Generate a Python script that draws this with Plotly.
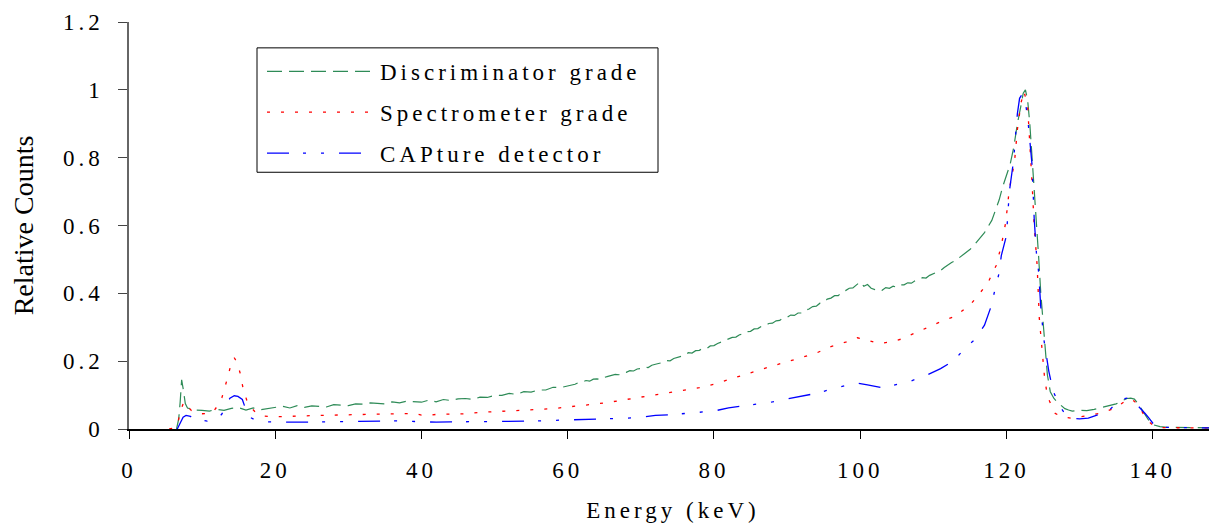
import plotly.graph_objects as go

# ---- Data ----
disc_x = [6.5, 6.8, 7.0, 7.2, 7.4, 7.7, 8.0, 8.5, 9, 10, 11, 12, 13, 14, 15, 16, 17, 18, 19, 20,
          21, 22, 23, 24, 25, 26, 27, 28, 29, 30, 31, 32, 33, 34, 35, 36, 37, 38, 39, 40,
          41, 42, 43, 44, 45, 46, 47, 48, 49, 50, 51, 52, 53, 54, 55, 56, 57, 58, 59,
          60, 60.5, 61, 61.5, 62, 62.5, 63, 63.5, 64, 64.5, 65, 65.5, 66, 66.5, 67, 67.5, 68, 68.5, 69, 69.5,
          70, 70.5, 71, 71.5, 72, 72.5, 73, 73.5, 74, 74.5, 75, 75.5, 76, 76.5, 77, 77.5, 78, 78.5, 79, 79.5,
          80, 80.5, 81, 81.5, 82, 82.5, 83, 83.5, 84, 84.5, 85, 85.5, 86, 86.5, 87, 87.5, 88, 88.5, 89, 89.5,
          90, 90.5, 91, 91.5, 92, 92.5, 93, 93.5, 94, 94.5, 95, 95.5, 96, 96.5, 97, 97.5, 98, 98.5, 99, 99.5,
          100, 100.5, 101, 101.5, 102, 102.5, 103, 103.5, 104, 104.5, 105, 105.5, 106, 106.5, 107, 107.5, 108, 108.5, 109, 109.5,
          110, 110.5, 111, 111.5, 112, 112.5, 113, 113.5, 114, 114.5, 115, 115.5, 116, 116.5, 117, 117.5, 118,
          118.5, 119, 119.5, 120, 120.5, 121, 121.5, 122, 122.3, 122.6, 122.9, 123.2, 123.5, 123.8, 124.1,
          124.4, 124.7, 125.0, 125.3, 125.6, 126.0, 126.5, 127, 127.5, 128, 128.5, 129, 130, 131, 132,
          133, 134, 135, 136, 136.5, 137, 137.5, 138, 138.5, 139, 139.5, 140, 141, 142, 144, 146, 148.8]
disc_y = [0.0, 0.03, 0.08, 0.145, 0.12, 0.075, 0.062, 0.058, 0.056, 0.055, 0.053, 0.058, 0.055, 0.061, 0.063, 0.056, 0.062, 0.057, 0.061, 0.063,
          0.067, 0.062, 0.069, 0.064, 0.068, 0.067, 0.065, 0.072, 0.071, 0.069, 0.074, 0.073, 0.077, 0.076, 0.074, 0.080, 0.077, 0.082, 0.081, 0.079,
          0.085, 0.080, 0.087, 0.084, 0.089, 0.090, 0.087, 0.094, 0.093, 0.099, 0.099, 0.105, 0.102, 0.110, 0.109, 0.115, 0.115, 0.123, 0.122,
          0.127, 0.131, 0.132, 0.137, 0.138, 0.143, 0.141, 0.147, 0.148, 0.146, 0.152, 0.155, 0.157, 0.161, 0.160, 0.166, 0.167, 0.172, 0.171, 0.177,
          0.178, 0.183, 0.181, 0.188, 0.191, 0.194, 0.196, 0.202, 0.201, 0.208, 0.211, 0.214, 0.217, 0.225, 0.224, 0.231, 0.232, 0.238, 0.237, 0.245,
          0.246, 0.252, 0.256, 0.262, 0.265, 0.270, 0.271, 0.278, 0.280, 0.287, 0.288, 0.295, 0.296, 0.303, 0.304, 0.311, 0.312, 0.319, 0.320, 0.328,
          0.329, 0.336, 0.335, 0.342, 0.342, 0.350, 0.354, 0.361, 0.362, 0.371, 0.373, 0.383, 0.386, 0.393, 0.393, 0.404, 0.408, 0.415, 0.416, 0.426,
          0.434, 0.421, 0.426, 0.415, 0.411, 0.414, 0.409, 0.417, 0.415, 0.421, 0.418, 0.425, 0.425, 0.431, 0.430, 0.437, 0.440, 0.446, 0.445, 0.453,
          0.458, 0.463, 0.467, 0.476, 0.484, 0.491, 0.496, 0.504, 0.511, 0.519, 0.529, 0.540, 0.554, 0.566, 0.579, 0.597, 0.615,
          0.645, 0.675, 0.715, 0.745, 0.780, 0.830, 0.900, 0.955, 0.990, 1.000, 0.970, 0.900, 0.810, 0.720, 0.620,
          0.510, 0.400, 0.320, 0.220, 0.160, 0.110, 0.090, 0.078, 0.068, 0.060, 0.056, 0.053, 0.055, 0.054, 0.058,
          0.063, 0.068, 0.074, 0.085, 0.090, 0.091, 0.088, 0.075, 0.058, 0.040, 0.024, 0.013, 0.007, 0.005, 0.004, 0.003, 0.003]

spec_x = [5.5, 6.2, 6.7, 7.0, 7.5, 8.0, 8.5, 9, 10, 11, 11.5, 12, 12.7, 13.4, 14.0, 14.4, 14.8, 15.2, 15.6, 16.1,
          16.6, 17.5, 18.5, 20, 22, 24, 26, 28, 30, 32, 34, 36, 38, 39, 40, 41, 42, 44, 46, 48,
          50, 52, 54, 56, 58, 60, 62, 64, 66, 68, 70, 72, 74, 76, 78, 80, 82, 84, 86, 88,
          90, 92, 94, 96, 98, 99.6, 101, 102.5, 104, 105.6, 107, 108.4, 110, 111.5, 113, 114, 115.2, 116.3, 117.4, 118.6,
          119.3, 119.9, 120.4, 121.1, 121.5, 122, 122.4, 122.9, 123.2, 123.5, 123.8, 124.2, 124.5, 124.8, 125.2, 125.6, 126.6, 127.5, 128.9, 131,
          133, 134.9, 136, 136.7, 137.5, 138.2, 139.2, 140, 141.2, 145, 148.8]
spec_y = [0.0, 0.003, 0.02, 0.05, 0.08, 0.068, 0.055, 0.048, 0.045, 0.046, 0.050, 0.065, 0.092, 0.145, 0.195, 0.210, 0.195, 0.165, 0.120, 0.085,
          0.065, 0.045, 0.038, 0.036, 0.038, 0.039, 0.040, 0.041, 0.042, 0.043, 0.044, 0.044, 0.045, 0.046, 0.041, 0.040, 0.043, 0.044, 0.045, 0.049,
          0.051, 0.052, 0.055, 0.057, 0.060, 0.065, 0.069, 0.074, 0.080, 0.087, 0.093, 0.099, 0.106, 0.114, 0.122, 0.132, 0.146, 0.160, 0.174, 0.186,
          0.198, 0.210, 0.224, 0.243, 0.256, 0.269, 0.262, 0.252, 0.256, 0.265, 0.278, 0.291, 0.305, 0.321, 0.332, 0.350, 0.370, 0.399, 0.428, 0.482,
          0.541, 0.609, 0.707, 0.786, 0.883, 0.962, 0.996, 0.952, 0.854, 0.728, 0.600, 0.482, 0.326, 0.258, 0.155, 0.097, 0.047, 0.036, 0.032, 0.039,
          0.047, 0.062, 0.080, 0.089, 0.082, 0.064, 0.027, 0.012, 0.004, 0.003, 0.003]

cap_x = [6.6, 7.0, 7.4, 7.8, 8.4, 9.0, 10, 10.7, 11.5, 12.2, 12.7, 13.3, 13.8, 14.4, 14.9, 15.5, 15.9, 16.5, 17.5, 19,
         20, 22, 24, 26, 28, 30, 32, 34, 36, 38, 40, 42, 44, 46, 48, 50, 52, 54, 56, 58,
         60, 62, 64, 66, 68, 70, 72, 74, 76, 78, 80, 82, 84, 86, 88, 90, 92, 94, 96, 98,
         99.5, 101, 102, 103, 104, 105, 107, 109, 111, 112.9, 114.5, 115.6, 117, 117.8, 118.5, 119, 119.3, 120, 120.4, 121,
         121.2, 121.5, 121.8, 122.1, 122.5, 122.9, 123.2, 123.5, 123.8, 124.1, 124.4, 124.7, 125.1, 125.4, 125.8, 126.4, 127.3, 128, 128.9, 130,
         131.2, 132.5, 134, 135.5, 136.5, 137.1, 138.1, 139, 139.5, 140.2, 141, 143, 148.8]
cap_y = [0.0, 0.020, 0.035, 0.040, 0.037, 0.030, 0.025, 0.023, 0.026, 0.033, 0.044, 0.070, 0.091, 0.098, 0.096, 0.087, 0.062, 0.035, 0.024, 0.021,
         0.020, 0.020, 0.020, 0.021, 0.021, 0.021, 0.022, 0.023, 0.024, 0.023, 0.021, 0.020, 0.021, 0.021, 0.021, 0.021, 0.022, 0.023, 0.024, 0.025,
         0.027, 0.029, 0.030, 0.031, 0.032, 0.035, 0.040, 0.042, 0.045, 0.049, 0.053, 0.062, 0.068, 0.074, 0.080, 0.089, 0.096, 0.105, 0.117, 0.127,
         0.136, 0.130, 0.125, 0.122, 0.126, 0.131, 0.142, 0.158, 0.178, 0.203, 0.243, 0.262, 0.306, 0.355, 0.414, 0.460, 0.511, 0.570, 0.700, 0.795,
         0.854, 0.930, 0.975, 0.985, 0.975, 0.920, 0.850, 0.780, 0.620, 0.520, 0.464, 0.360, 0.267, 0.220, 0.170, 0.111, 0.067, 0.045, 0.032, 0.030,
         0.032, 0.042, 0.054, 0.086, 0.091, 0.089, 0.067, 0.045, 0.032, 0.012, 0.005, 0.004, 0.003]

series_names = ["Discriminator grade", "Spectrometer grade", "CAPture detector"]
x_ticks = [0, 20, 40, 60, 80, 100, 120, 140]
x_tick_labels = ["0", "20", "40", "60", "80", "100", "120", "140"]
y_ticks = [0, 0.2, 0.4, 0.6, 0.8, 1, 1.2]
y_tick_labels = ["0", "0.2", "0.4", "0.6", "0.8", "1", "1.2"]

FONT = "Liberation Serif, Times New Roman, serif"


def spaced(t, px):
    return f"<span style='letter-spacing:{px}px'>{t}</span>"


fig = go.Figure()
fig.add_trace(go.Scatter(x=disc_x, y=disc_y, mode="lines", name=spaced(series_names[0], 4),
                         legendgroup="a",
                         line=dict(color="#2e8b57", width=1.2, dash="15px,7px")))
fig.add_trace(go.Scatter(x=spec_x, y=spec_y, mode="lines", name=spaced(series_names[1], 4),
                         legendgroup="b",
                         line=dict(color="#ff0000", width=1.3, dash="3px,11px")))
fig.add_trace(go.Scatter(x=cap_x, y=cap_y, mode="lines", name=spaced(series_names[2], 4),
                         legendgroup="c",
                         line=dict(color="#0000ff", width=1.3, dash="22px,14px,3px,15px,3px,15px")))

# legend frame
fig.add_shape(type="rect", xref="paper", yref="paper",
              x0=(257 - 129) / 1088, x1=(658 - 129) / 1088,
              y0=(431 - 173) / 409, y1=(431 - 48) / 409,
              line=dict(color="#000000", width=1), fillcolor="white", layer="below")

fig.update_layout(
    width=1209, height=515,
    margin=dict(l=121, r=0, t=14, b=92),
    paper_bgcolor="white", plot_bgcolor="white",
    font=dict(family=FONT, size=22, color="#000000"),
    showlegend=True,
    legend=dict(x=(262 - 129) / 1088, y=(431 - 50) / 409, xanchor="left", yanchor="top",
                bgcolor="rgba(0,0,0,0)", borderwidth=0,
                font=dict(family=FONT, size=23, color="#000000"),
                itemwidth=108, tracegroupgap=8),
    xaxis=dict(range=[0, 148.8], tickvals=x_ticks,
               ticktext=[spaced(t, 4) for t in x_tick_labels],
               ticks="outside", ticklen=8, tickcolor="#000",
               showline=True, linecolor="#000", linewidth=1.5, showgrid=False, zeroline=False,
               tickfont=dict(family=FONT, size=23), ticklabelstandoff=12,
               title=dict(text=spaced("Energy (keV)", 4), font=dict(family=FONT, size=23), standoff=24)),
    yaxis=dict(range=[0, 1.2], tickvals=y_ticks,
               ticktext=[spaced(t, 4) for t in y_tick_labels],
               ticks="outside", ticklen=9, tickcolor="#444",
               showline=True, linecolor="#666", linewidth=1.5, showgrid=False, zeroline=False,
               tickfont=dict(family=FONT, size=23), ticklabelstandoff=10,
               title=dict(text="Relative Counts", font=dict(family=FONT, size=28), standoff=28)),
)

fig.write_html("out.html")
